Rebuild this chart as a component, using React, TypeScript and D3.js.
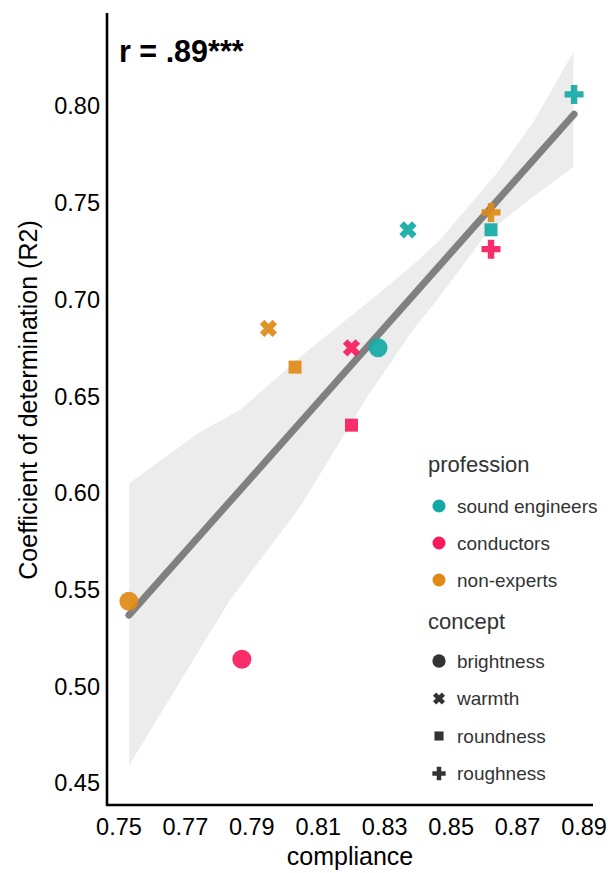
import React from 'react';
import * as d3 from 'd3';

// ---------- data ----------
const professions = ['sound engineers', 'conductors', 'non-experts'];
const professionColors = ['#12a9a4', '#f71b5c', '#e08a16'];
const concepts = ['brightness', 'warmth', 'roundness', 'roughness'];

const pointProfession = [0, 0, 0, 0, 1, 1, 1, 1, 2, 2, 2, 2];
const pointConcept = [0, 1, 2, 3, 0, 1, 2, 3, 0, 1, 2, 3];
const compliance = [0.828, 0.837, 0.862, 0.887, 0.787, 0.820, 0.820, 0.862, 0.753, 0.795, 0.803, 0.862];
const r2 = [0.675, 0.736, 0.736, 0.806, 0.514, 0.675, 0.635, 0.726, 0.544, 0.685, 0.665, 0.745];

// confidence band edges
const bandUpperX = [0.7531, 0.7744, 0.7864, 0.7985, 0.8045, 0.8277, 0.8385, 0.8466, 0.8638, 0.8746, 0.8868];
const bandUpperY = [0.605, 0.6315, 0.6428, 0.6609, 0.6702, 0.7023, 0.7178, 0.7307, 0.7654, 0.7912, 0.8279];
const bandLowerX = [0.7531, 0.7834, 0.8045, 0.8247, 0.8385, 0.8457, 0.8608, 0.8746, 0.8868];
const bandLowerY = [0.4593, 0.5446, 0.5927, 0.6496, 0.6842, 0.6997, 0.7343, 0.753, 0.7685];

const xTicks = [0.75, 0.77, 0.79, 0.81, 0.83, 0.85, 0.87, 0.89];
const yTicks = [0.45, 0.5, 0.55, 0.6, 0.65, 0.7, 0.75, 0.8];
const xDomain = [0.7464, 0.8927];
const yDomain = [0.43863, 0.84808];

const annotation = 'r = .89***';
const xLabel = 'compliance';
const yLabel = 'Coefficient of determination (R2)';

// ---------- helpers ----------
function plusPath(a: number, b: number, rot = 0): string {
  const pts: [number, number][] = [
    [-b, -a], [b, -a], [b, -b], [a, -b], [a, b], [b, b],
    [b, a], [-b, a], [-b, b], [-a, b], [-a, -b], [-b, -b],
  ];
  const c = Math.cos(rot), s = Math.sin(rot);
  return 'M' + pts.map(([x, y]) => `${(x * c - y * s).toFixed(2)},${(x * s + y * c).toFixed(2)}`).join('L') + 'Z';
}

function Marker({ kind, x, y, color, scale = 1, opacity = 1 }: any) {
  if (kind === 0) return <circle cx={x} cy={y} r={9.5 * scale} fill={color} opacity={opacity} />;
  if (kind === 2) {
    const s = 13 * scale;
    return <rect x={x - s / 2} y={y - s / 2} width={s} height={s} fill={color} opacity={opacity} />;
  }
  if (kind === 1)
    return <path transform={`translate(${x},${y})`} d={plusPath(9 * scale, 3.2 * scale, Math.PI / 4)} fill={color} opacity={opacity} />;
  return <path transform={`translate(${x},${y})`} d={plusPath(9.5 * scale, 3.2 * scale)} fill={color} opacity={opacity} />;
}

export default function App() {
  const W = 608, H = 873;
  const x = d3.scaleLinear().domain(xDomain).range([107, 593]);
  const y = d3.scaleLinear().domain(yDomain).range([805, 13]);

  // regression
  const mx = d3.mean(compliance)!;
  const my = d3.mean(r2)!;
  let sxy = 0, sxx = 0;
  compliance.forEach((c, i) => {
    sxy += (c - mx) * (r2[i] - my);
    sxx += (c - mx) * (c - mx);
  });
  const slope = sxy / sxx;
  const x0 = d3.min(compliance)!, x1 = d3.max(compliance)!;
  const fit = (v: number) => my + slope * (v - mx);
  const linePath = d3.line<number>().x((d) => x(d)).y((d) => y(fit(d)))([x0, x1])!;

  const bandPts: [number, number][] = [
    ...bandUpperX.map((v, i) => [x(v), y(bandUpperY[i])] as [number, number]),
    ...bandLowerX.map((v, i) => [x(v), y(bandLowerY[i])] as [number, number]).reverse(),
  ];
  const bandPath = d3.line()(bandPts)! + 'Z';

  const font = '"Liberation Sans", Arial, Helvetica, sans-serif';
  const legendX = 428;

  return (
    <svg width={W} height={H} style={{ position: 'absolute', left: 0, top: 0, background: '#fff' }} fontFamily={font}>
      <path d={bandPath} fill="#ececec" />
      <path d={linePath} stroke="#808080" strokeWidth={7} strokeLinecap="round" fill="none" />
      {compliance.map((c, i) => (
        <Marker key={i} kind={pointConcept[i]} x={x(c)} y={y(r2[i])} color={professionColors[pointProfession[i]]} opacity={0.92} />
      ))}

      {/* axes */}
      <line x1={107} x2={107} y1={13} y2={806} stroke="#000" strokeWidth={2.6} />
      <line x1={106} x2={593} y1={805} y2={805} stroke="#000" strokeWidth={2.6} />
      {yTicks.map((t) => (
        <text key={t} x={100} y={y(t)} dy="0.36em" textAnchor="end" fontSize={23.5} fill="#000">
          {d3.format('.2f')(t)}
        </text>
      ))}
      {xTicks.map((t) => (
        <text key={t} x={x(t)} y={835} textAnchor="middle" fontSize={23.5} fill="#000">
          {d3.format('.2f')(t)}
        </text>
      ))}
      <text x={350} y={865} textAnchor="middle" fontSize={25} fill="#000">{xLabel}</text>
      <text transform="translate(37,400) rotate(-90)" textAnchor="middle" fontSize={25} fill="#000">{yLabel}</text>

      <text x={119} y={62} fontSize={30.5} fontWeight="bold" fill="#000">{annotation}</text>

      {/* legend */}
      <text x={legendX} y={472} fontSize={22} fill="#333">profession</text>
      {professions.map((p, i) => (
        <g key={p}>
          <circle cx={439} cy={506 + i * 37} r={6.5} fill={professionColors[i]} />
          <text x={457} y={506 + i * 37} dy="0.35em" fontSize={19} fill="#333">{p}</text>
        </g>
      ))}
      <text x={legendX} y={629} fontSize={22} fill="#333">concept</text>
      {concepts.map((c, i) => (
        <g key={c}>
          <Marker kind={i} x={439} y={661 + i * 37.5} color="#333" scale={0.7} />
          <text x={457} y={661 + i * 37.5} dy="0.35em" fontSize={19} fill="#333">{c}</text>
        </g>
      ))}
    </svg>
  );
}
